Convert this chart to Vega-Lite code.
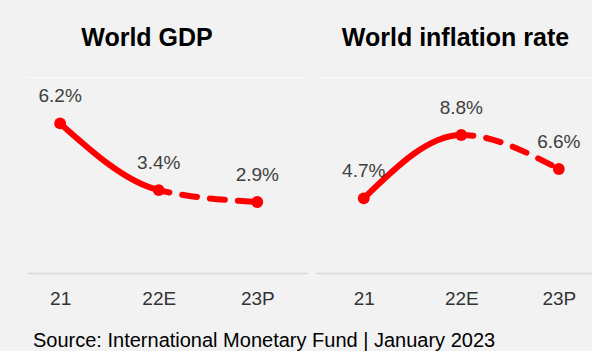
{
  "$schema": "https://vega.github.io/schema/vega-lite/v6.json",
  "background": "#f2f2f2",
  "padding": {"left": 27, "top": 26, "right": 0, "bottom": 0},
  "spacing": 9,
  "config": {"font": "Liberation Sans", "view": {"stroke": null}},
  "datasets": {
    "d": [
      {"panel": "gdp", "year": "21", "value": 6.2},
      {"panel": "gdp", "year": "22E", "value": 3.4},
      {"panel": "gdp", "year": "23P", "value": 2.9},
      {"panel": "infl", "year": "21", "value": 4.7},
      {"panel": "infl", "year": "22E", "value": 8.8},
      {"panel": "infl", "year": "23P", "value": 6.6}
    ]
  },
  "title": {
    "text": "Source: International Monetary Fund | January 2023",
    "orient": "bottom",
    "anchor": "start",
    "fontSize": 20,
    "fontWeight": "normal",
    "color": "#000000",
    "dx": 6,
    "offset": 23
  },
  "hconcat": [
    {
      "width": 280,
      "height": 194,
      "title": {"text": "World GDP", "fontSize": 25, "fontWeight": "bold", "color": "#000000", "baseline": "alphabetic", "offset": 6, "dx": -20, "anchor": "middle"},
      "data": {"name": "d"},
      "transform": [
        {"filter": "datum.panel === 'gdp'"},
        {"calculate": "format(datum.value, '.1f') + '%'", "as": "label"}
      ],
      "encoding": {
        "x": {
          "field": "year", "type": "ordinal",
          "scale": {"type": "point", "padding": 0.42, "align": 0.4},
          "axis": {"title": null, "ticks": false, "grid": false, "labelAngle": 0, "labelFontSize": 19, "labelColor": "#333333", "labelPadding": 16, "domainColor": "#d9d9d9", "domainWidth": 1.5, "offset": 2}
        },
        "y": {
          "field": "value", "type": "quantitative",
          "scale": {"domain": [0, 8.15], "nice": false},
          "axis": {"title": null, "domain": false, "ticks": false, "labels": false, "grid": true, "values": [8.15], "gridColor": "#fbfbfb", "gridWidth": 1}
        }
      },
      "layer": [
        {"mark": {"type": "line", "interpolate": "monotone", "color": "#ff0000", "strokeWidth": 6, "strokeCap": "round", "strokeDash": [131, 13, 15, 13, 15, 13, 15, 13, 15, 13, 15, 13]}},
        {"mark": {"type": "point", "filled": true, "size": 140, "color": "#ff0000", "opacity": 1}},
        {"mark": {"type": "text", "dy": -27, "fontSize": 19, "color": "#404040"}, "encoding": {"text": {"field": "label"}}}
      ]
    },
    {
      "width": 276,
      "height": 194,
      "title": {"text": "World inflation rate", "fontSize": 25, "fontWeight": "bold", "color": "#000000", "baseline": "alphabetic", "offset": 6, "dx": 1.5, "anchor": "middle"},
      "data": {"name": "d"},
      "transform": [
        {"filter": "datum.panel === 'infl'"},
        {"calculate": "format(datum.value, '.1f') + '%'", "as": "label"}
      ],
      "encoding": {
        "x": {
          "field": "year", "type": "ordinal",
          "scale": {"type": "point", "padding": 0.415, "align": 0.59},
          "axis": {"title": null, "ticks": false, "grid": false, "labelAngle": 0, "labelFontSize": 19, "labelColor": "#333333", "labelPadding": 16, "domainColor": "#d9d9d9", "domainWidth": 1.5, "offset": 2}
        },
        "y": {
          "field": "value", "type": "quantitative",
          "scale": {"domain": [0, 12.55], "nice": false},
          "axis": {"title": null, "domain": false, "ticks": false, "labels": false, "grid": true, "values": [12.55], "gridColor": "#fbfbfb", "gridWidth": 1}
        }
      },
      "layer": [
        {"mark": {"type": "line", "interpolate": "monotone", "color": "#ff0000", "strokeWidth": 6, "strokeCap": "round", "strokeDash": [131, 13, 15, 13, 15, 13, 15, 13, 15, 13, 15, 13]}},
        {"mark": {"type": "point", "filled": true, "size": 140, "color": "#ff0000", "opacity": 1}},
        {"mark": {"type": "text", "dy": -27, "fontSize": 19, "color": "#404040"}, "encoding": {"text": {"field": "label"}}}
      ]
    }
  ]
}
